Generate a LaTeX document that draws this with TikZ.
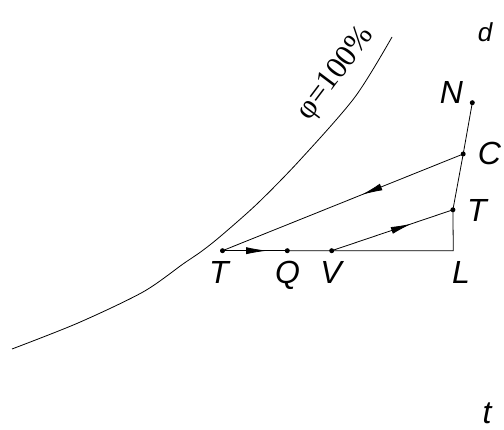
\documentclass[tikz,border=0pt]{standalone}
\usepackage{fontspec}
\setmainfont{Liberation Sans}
\newfontfamily\phifont{Liberation Serif}
\usetikzlibrary{arrows.meta,decorations.markings}
\begin{document}
\begin{tikzpicture}[x=1pt,y=-1pt,
  ln/.style={line width=0.8pt},
  dotpt/.style={circle,fill,inner sep=0pt,minimum size=5pt},
  lbl/.style={font=\fontsize{32}{32}\selectfont\itshape,inner sep=0pt,anchor=base},
  midarrow/.style={postaction={decorate},decoration={markings,mark=at position #1 with {\arrow{Latex[length=21pt,width=7pt]}}}}]
\useasboundingbox (0,0) rectangle (504,430);
% curve phi = 100%
\draw[ln] plot[smooth,tension=0.5] coordinates {(12,349) (78,323) (143,292) (183,264) (202,251) (222,235) (258,203) (300,160) (355,97) (392,37)};
\node[font=\phifont\fontsize{31}{31}\selectfont,rotate=53,inner sep=0pt] (phi) at (336.5,74) {φ=100\%};
% points
\node[dotpt] (TL) at (222.5,250.7) {};
\node[dotpt] (Q) at (287.3,250.7) {};
\node[dotpt] (V) at (331.7,250.7) {};
\coordinate (L) at (453.3,250.7);
\node[dotpt] (TR) at (452.9,209.8) {};
\node[dotpt] (C) at (463.2,154) {};
\node[dotpt] (N) at (472.3,102.7) {};
% connectors
\draw[ln,midarrow=0.69] (TL.center) -- (Q.center);
\draw[ln] (Q.center) -- (V.center) -- (L) -- (TR.center);
\draw[ln,midarrow=0.66] (V.center) -- (TR.center);
\draw[ln] (TR.center) -- (C.center) -- (N.center);
\draw[ln,midarrow=0.422] (C.center) -- (TL.center);
% labels
\node[lbl] (lTL) at (219,283.3) {T};
\node[lbl] (lQ) at (287.5,283.3) {Q};
\node[lbl] (lV) at (331,283.3) {V};
\node[lbl] (lL) at (461,283.3) {L};
\node[lbl] (lTR) at (477,221.7) {T};
\node[lbl] (lC) at (489.5,165) {C};
\node[lbl] (lN) at (451.5,103.3) {N};
\node[lbl,font=\fontsize{26}{26}\selectfont\itshape] (ld) at (485,41.7) {d};
\node[lbl] (lt) at (487,424) {t};
\end{tikzpicture}
\end{document}
